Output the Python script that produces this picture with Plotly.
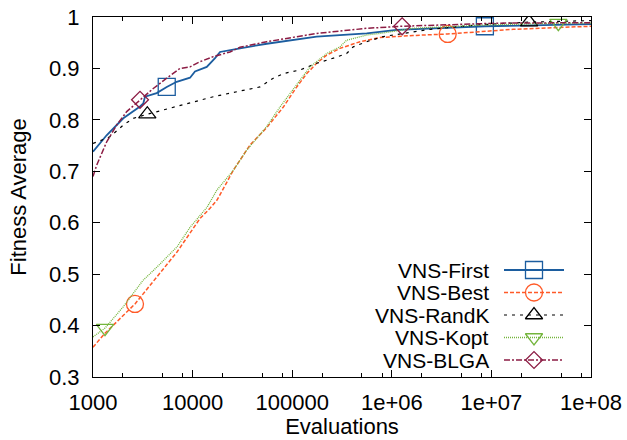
import plotly.graph_objects as go

# ---------------- data ----------------
first_x = [1000, 1370, 2015, 2540, 2965, 3200, 3325, 4360, 5500, 6920, 9420, 10570, 13870, 16800,
           18850, 29900, 55500, 176000, 560000, 1120000, 8600000, 100000000]
first_y = [0.738, 0.770, 0.803, 0.816, 0.826, 0.832, 0.845, 0.852, 0.864, 0.874, 0.882, 0.894, 0.903,
           0.920, 0.932, 0.939, 0.948, 0.962, 0.968, 0.975, 0.982, 0.986]
first_marks = [8, 20]

best_x = [1000, 1320, 2640, 4400, 6970, 11850, 14960, 17580, 25650, 37700, 55500, 81500, 111000,
          140000, 176000, 222000, 302000, 480000, 762000, 1630000, 3640000, 16500000, 100000000]
best_y = [0.358, 0.385, 0.442, 0.494, 0.543, 0.608, 0.628, 0.644, 0.702, 0.751, 0.785, 0.825, 0.864,
          0.890, 0.910, 0.926, 0.939, 0.952, 0.960, 0.964, 0.967, 0.976, 0.982]
best_marks = [2, 20]

randk_x = [1000, 1480, 2015, 2540, 3510, 5080, 9420, 16150, 29900, 47500, 64600, 81500, 119700,
           176000, 259000, 352000, 410000, 560000, 822000, 2420000, 7700000, 23900000, 100000000]
randk_y = [0.754, 0.767, 0.790, 0.803, 0.811, 0.819, 0.832, 0.845, 0.856, 0.864, 0.881, 0.890, 0.897,
           0.910, 0.920, 0.929, 0.942, 0.952, 0.962, 0.976, 0.985, 0.990, 0.993]
randk_marks = [4, 21]

kopt_x = [1000, 1320, 2000, 3180, 4400, 6970, 9420, 13960, 17460, 25650, 34900, 55500, 75400, 95000,
          119700, 151000, 222000, 302000, 352000, 560000, 762000, 1630000, 7700000, 47000000, 100000000]
kopt_y = [0.378, 0.395, 0.436, 0.488, 0.514, 0.553, 0.591, 0.630, 0.663, 0.702, 0.741, 0.787, 0.825,
          0.852, 0.877, 0.903, 0.929, 0.942, 0.955, 0.965, 0.968, 0.978, 0.984, 0.988, 0.988]
kopt_marks = [1, 23]

blga_x = [1000, 1090, 1370, 1730, 2180, 2965, 4030, 5500, 7470, 9420, 11850, 16150, 23700, 29900,
          55500, 176000, 560000, 1270000, 11400000, 100000000]
blga_y = [0.690, 0.712, 0.757, 0.790, 0.816, 0.839, 0.861, 0.881, 0.900, 0.903, 0.913, 0.923, 0.932,
          0.941, 0.952, 0.968, 0.978, 0.982, 0.988, 0.989]
blga_marks = [5, 17]

series_names = ["VNS-First", "VNS-Best", "VNS-RandK", "VNS-Kopt", "VNS-BLGA"]

x_tickvals = [1e3, 1e4, 1e5, 1e6, 1e7, 1e8]
x_ticktext = ["1000", "10000", "100000", "1e+06", "1e+07", "1e+08"]
y_tickvals = [0.3, 0.4, 0.5, 0.6, 0.7, 0.8, 0.9, 1.0]
y_ticktext = ["0.3", "0.4", "0.5", "0.6", "0.7", "0.8", "0.9", "1"]

# ---------------- styles ----------------
FONT = "Liberation Sans, Arial, Helvetica, sans-serif"
FS = 22
LEG_FS = 21
styles = [
    dict(color="#1c5d9f", width=1.8, dash="solid", symbol="square-open", size=17),
    dict(color="#ff5a28", width=1.5, dash="4px,2px", symbol="circle-open", size=17),
    dict(color="#000000", width=1.2, dash="3px,5px", symbol="triangle-up-open", size=15),
    dict(color="#74b53c", width=1.3, dash="1px,1px", symbol="triangle-down-open", size=15),
    dict(color="#8c1c44", width=1.5, dash="6px,2px,2px,2px", symbol="diamond-open", size=13),
]
all_series = [
    (first_x, first_y, first_marks),
    (best_x, best_y, best_marks),
    (randk_x, randk_y, randk_marks),
    (kopt_x, kopt_y, kopt_marks),
    (blga_x, blga_y, blga_marks),
]

fig = go.Figure()

for (xs, ys, marks), st, name in zip(all_series, styles, series_names):
    fig.add_trace(go.Scatter(
        x=xs, y=ys, mode="lines", name=name, showlegend=False,
        line=dict(color=st["color"], width=st["width"], dash=st["dash"]),
    ))
    fig.add_trace(go.Scatter(
        x=[xs[i] for i in marks], y=[ys[i] for i in marks], mode="markers",
        showlegend=False, hoverinfo="skip",
        marker=dict(symbol=st["symbol"], size=st["size"], color=st["color"],
                    line=dict(color=st["color"], width=1.3)),
    ))

# ---------------- manual gnuplot-style legend (pixel overlay axes) ----------------
L, R, T, B = 93, 591, 17, 377
leg_rows = [270, 292.5, 315, 337.5, 360]
leg_text_right = 490
leg_line = (504, 564)
leg_mark = 534
for row, st, name in zip(leg_rows, styles, series_names):
    fig.add_trace(go.Scatter(
        x=list(leg_line), y=[row, row], xaxis="x2", yaxis="y2", mode="lines",
        showlegend=False, hoverinfo="skip",
        line=dict(color=st["color"], width=st["width"], dash=st["dash"]),
    ))
    fig.add_trace(go.Scatter(
        x=[leg_mark], y=[row], xaxis="x2", yaxis="y2", mode="markers",
        showlegend=False, hoverinfo="skip",
        marker=dict(symbol=st["symbol"], size=st["size"], color=st["color"],
                    line=dict(color=st["color"], width=1.3)),
    ))
    fig.add_annotation(x=leg_text_right, y=row, xref="x2", yref="y2", text=name,
                       showarrow=False, xanchor="right", yanchor="middle",
                       borderpad=0,
                       font=dict(family=FONT, size=LEG_FS, color="black"))

minor_vals = []
for dec in [1e3, 1e4, 1e5, 1e6, 1e7]:
    for m in (2, 5, 8):
        minor_vals.append(m * dec)

fig.update_layout(
    width=627, height=440, autosize=False,
    margin=dict(l=L, r=627 - R, t=T, b=440 - B, pad=0, autoexpand=False),
    paper_bgcolor="white", plot_bgcolor="white",
    font=dict(family=FONT, size=FS, color="black"),
    xaxis=dict(
        type="log", range=[3, 8], tickmode="array", tickvals=x_tickvals, ticktext=x_ticktext,
        ticks="inside", ticklen=7, tickwidth=1, tickcolor="black",
        showline=True, linecolor="black", linewidth=1.2, mirror="ticks",
        showgrid=False, zeroline=False, ticklabelstandoff=5, automargin=False,
        minor=dict(ticks="inside", ticklen=4, tickwidth=1, tickcolor="black",
                   tickmode="array", tickvals=minor_vals, showgrid=False),
        title=dict(text="Evaluations", font=dict(size=FS), standoff=5),
        tickfont=dict(size=FS),
    ),
    yaxis=dict(
        range=[0.3, 1.0], tickmode="array", tickvals=y_tickvals, ticktext=y_ticktext,
        ticks="inside", ticklen=7, tickwidth=1, tickcolor="black",
        showline=True, linecolor="black", linewidth=1.2, mirror="ticks",
        showgrid=False, zeroline=False, ticklabelstandoff=8, automargin=False,
        title=dict(text="Fitness Average", font=dict(size=FS), standoff=16),
        tickfont=dict(size=FS),
    ),
    xaxis2=dict(range=[L, R], overlaying="x", anchor="y2", visible=False, fixedrange=True,
                automargin=False),
    yaxis2=dict(range=[B, T], overlaying="y", anchor="x2", visible=False, fixedrange=True,
                automargin=False),
    showlegend=False,
)

fig.write_html("out.html")
